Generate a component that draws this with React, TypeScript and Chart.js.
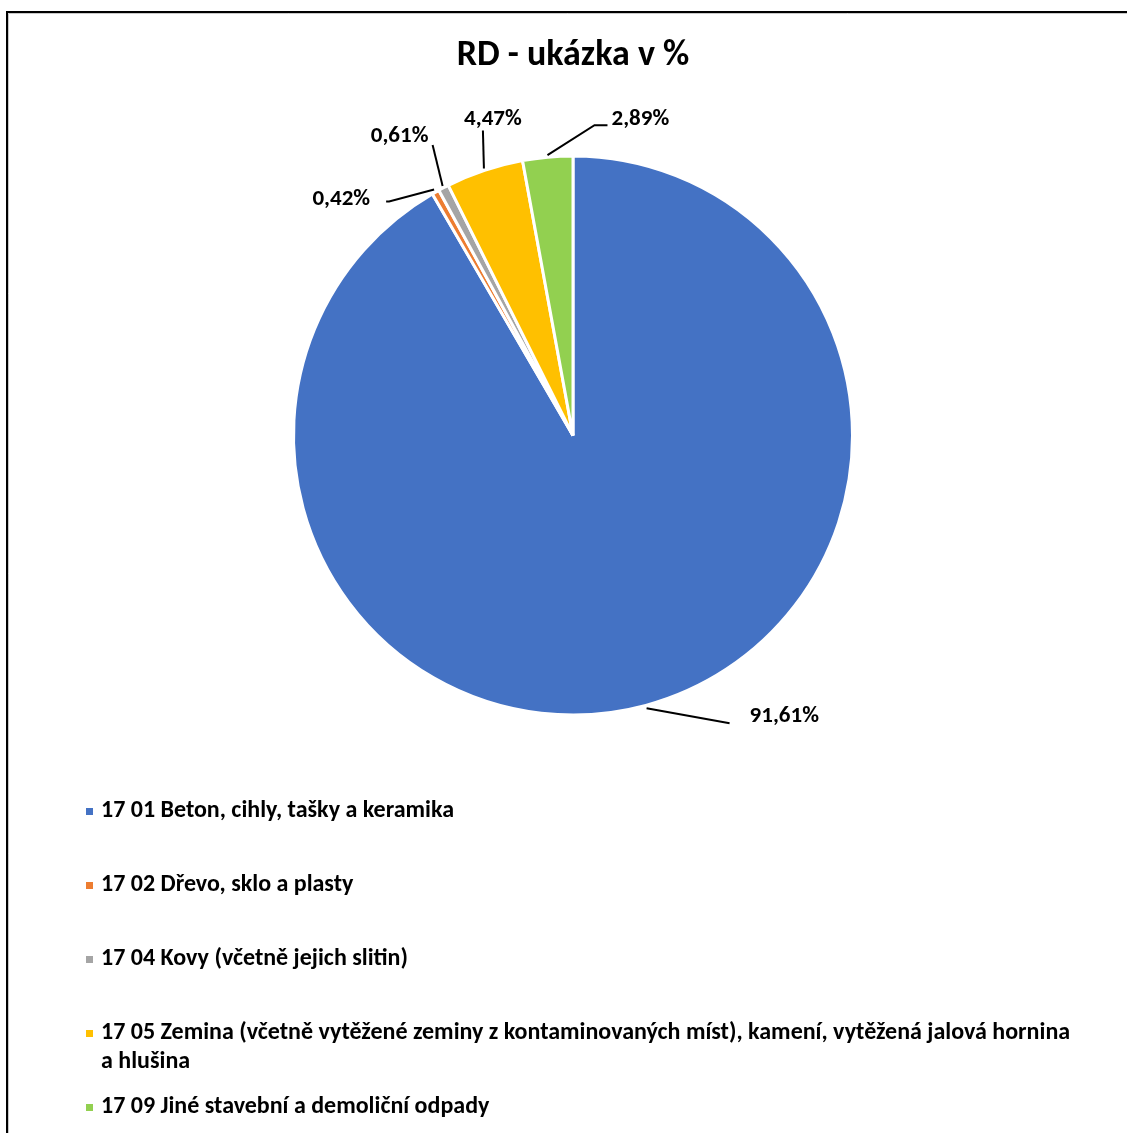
import React, { useEffect, useRef } from "react";
import { Chart, registerables } from "chart.js";

Chart.register(...registerables);

const TITLE = "RD - ukázka v %";
const categories = [
  "17 01 Beton, cihly, tašky a keramika",
  "17 02 Dřevo, sklo a plasty",
  "17 04 Kovy (včetně jejich slitin)",
  "17 05 Zemina (včetně vytěžené zeminy z kontaminovaných míst), kamení, vytěžená jalová hornina a hlušina",
  "17 09 Jiné stavební a demoliční odpady",
];
const values = [91.61, 0.42, 0.61, 4.47, 2.89];
const valueLabels = ["91,61%", "0,42%", "0,61%", "4,47%", "2,89%"];
const colors = ["#4472C4", "#ED7D31", "#A5A5A5", "#FFC000", "#92D050"];

// leader-line layout per slice: elbow offset from edge point, end offset, text side
const leaderLayout = [
  { start: 3, elbow: [83, 15], end: [83, 15], align: "left", text: [20, -7] },
  { start: 3, elbow: [-45, 12], end: [-48, 12], align: "right", text: [-16, -2] },
  { start: 2, elbow: [-10, -41], end: [-10, -41], align: "center", text: [-33, -9] },
  { start: 2, elbow: [-1, -38], end: [-1, -38], align: "center", text: [10, -11] },
  { start: 2, elbow: [47, -30], end: [60, -30], align: "left", text: [4, -6] },
];

const FONT = "Carlito, Calibri, Lato, 'Open Sans', sans-serif";

const decorPlugin = {
  id: "decor",
  beforeDraw(chart: any) {
    const ctx = chart.ctx;
    ctx.save();
    ctx.fillStyle = "#ffffff";
    ctx.fillRect(0, 0, chart.width, chart.height);
    ctx.strokeStyle = "#000000";
    ctx.lineWidth = 2;
    ctx.strokeRect(7, 12, chart.width + 20, chart.height + 20);
    ctx.strokeStyle = "#c8c8c8";
    ctx.lineWidth = 1;
    ctx.beginPath();
    ctx.moveTo(8.5, 13.5);
    ctx.lineTo(8.5, chart.height);
    ctx.moveTo(8.5, 13.5);
    ctx.lineTo(chart.width, 13.5);
    ctx.stroke();
    ctx.restore();
  },
  afterDraw(chart: any) {
    const ctx = chart.ctx;
    ctx.save();
    // title
    ctx.fillStyle = "#000000";
    ctx.font = `bold 36px ${FONT}`;
    ctx.textAlign = "center";
    ctx.textBaseline = "middle";
    ctx.fillText(TITLE, 573, 56);

    // data labels with leader lines
    const meta = chart.getDatasetMeta(0);
    ctx.font = `bold 23px ${FONT}`;
    meta.data.forEach((arc: any, i: number) => {
      const { x, y, startAngle, endAngle, outerRadius } = arc.getProps(
        ["x", "y", "startAngle", "endAngle", "outerRadius"],
        true
      );
      const mid = (startAngle + endAngle) / 2;
      const L = leaderLayout[i];
      const r = outerRadius + L.start;
      const px = x + Math.cos(mid) * r;
      const py = y + Math.sin(mid) * r;
      const ex = px + L.elbow[0];
      const ey = py + L.elbow[1];
      const fx = px + L.end[0];
      const fy = py + L.end[1];
      ctx.strokeStyle = "#000000";
      ctx.lineWidth = 2;
      ctx.beginPath();
      ctx.moveTo(px, py);
      ctx.lineTo(ex, ey);
      ctx.lineTo(fx, fy);
      ctx.stroke();
      ctx.textAlign = L.align as CanvasTextAlign;
      ctx.textBaseline = "middle";
      ctx.fillText(valueLabels[i], fx + L.text[0], fy + L.text[1]);
    });

    // legend
    ctx.font = `bold 24px ${FONT}`;
    ctx.textAlign = "left";
    ctx.textBaseline = "middle";
    const textX = 101;
    const maxW = 975;
    categories.forEach((cat, i) => {
      const yy = 811 + i * 74;
      ctx.fillStyle = colors[i];
      ctx.fillRect(86, yy - 3, 7, 7);
      ctx.fillStyle = "#000000";
      const words = cat.split(" ");
      let line = "";
      let ly = yy;
      for (const w of words) {
        const test = line ? line + " " + w : w;
        if (ctx.measureText(test).width > maxW && line) {
          ctx.fillText(line, textX, ly);
          line = w;
          ly += 29;
        } else {
          line = test;
        }
      }
      if (line) ctx.fillText(line, textX, ly);
    });
    ctx.restore();
  },
};

export default function App() {
  const ref = useRef<HTMLCanvasElement | null>(null);
  useEffect(() => {
    if (!ref.current) return;
    const chart = new Chart(ref.current, {
      type: "pie",
      data: {
        labels: categories,
        datasets: [
          {
            data: values,
            backgroundColor: colors,
            borderColor: "#ffffff",
            borderWidth: 3,
          },
        ],
      },
      options: {
        responsive: false,
        animation: false,
        devicePixelRatio: 1,
        layout: { padding: { left: 292, right: 273, top: 154, bottom: 416 } },
        plugins: {
          legend: { display: false },
          title: { display: false },
          tooltip: { enabled: false },
        },
      },
      plugins: [decorPlugin],
    });
    return () => chart.destroy();
  }, []);
  return (
    <div style={{ position: "absolute", left: 0, top: 0, width: 1127, height: 1133 }}>
      <canvas ref={ref} width={1127} height={1133} style={{ display: "block" }} />
    </div>
  );
}
